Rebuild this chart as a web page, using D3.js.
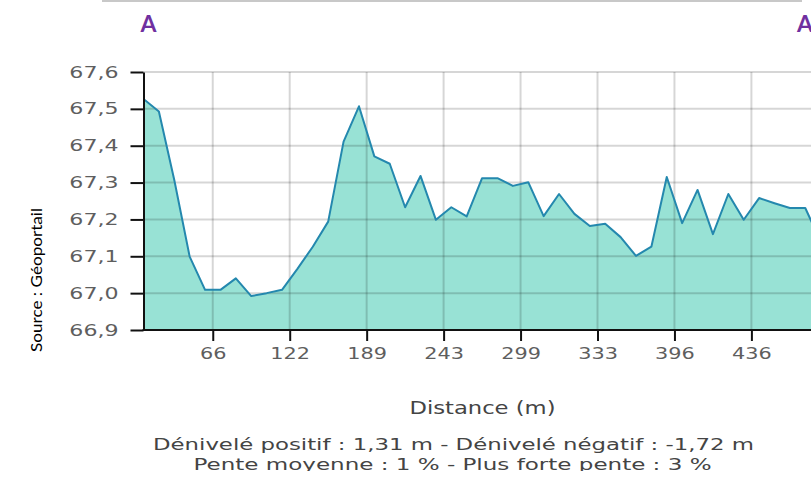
<!DOCTYPE html>
<html>
<head>
<meta charset="utf-8">
<script src="https://cdn.jsdelivr.net/npm/d3@7"></script>
<style>
  html, body { margin: 0; padding: 0; background: #fff; }
  svg { display: block; }
</style>
</head>
<body>
<svg id="chart" width="811" height="479"></svg>
<script>
// ---- Data ----
const elevation = [67.527, 67.493, 67.307, 67.099, 67.009, 67.009, 67.04, 66.992, 67.0, 67.009,
  67.066, 67.126, 67.194, 67.411, 67.507, 67.371, 67.351, 67.233, 67.318, 67.199,
  67.233, 67.208, 67.312, 67.312, 67.291, 67.301, 67.209, 67.269, 67.215, 67.182,
  67.188, 67.152, 67.101, 67.126, 67.315, 67.19, 67.28, 67.16, 67.269, 67.199,
  67.258, 67.244, 67.231, 67.231, 67.14];
const distanceLabels = ["66", "122", "189", "243", "299", "333", "396", "436"];
const yTickValues = [66.9, 67.0, 67.1, 67.2, 67.3, 67.4, 67.5, 67.6];
const xTitle = "Distance (m)";
const yTitle = "Source : Géoportail";
const statsLine1 = "Dénivelé positif : 1,31 m - Dénivelé négatif : -1,72 m";
const statsLine2 = "Pente moyenne : 1 % - Plus forte pente : 3 %";
const markerLabels = ["A", "A"];

(function () {
// ---- Layout ----
const W = 811, H = 479;
const pLeft = 143.5, pTop = 72, pBottom = 330;
const step = 15.39;
const svg = d3.select("#chart");

const x = d3.scaleLinear().domain([0, elevation.length - 1])
  .range([pLeft, pLeft + step * (elevation.length - 1)]);
const y = d3.scaleLinear().domain([66.9, 67.6]).range([pBottom, pTop]);
const xTickPos = distanceLabels.map((d, i) => 4.5 + 5 * i);
const fmt = v => d3.format(".1f")(v).replace(".", ",");

function stretch(sel, factor) {
  sel.each(function () {
    const w = this.getComputedTextLength();
    d3.select(this).attr("textLength", w * factor).attr("lengthAdjust", "spacingAndGlyphs");
  });
}
function fitTo(sel, width) {
  sel.attr("textLength", width).attr("lengthAdjust", "spacingAndGlyphs");
}

const defs = svg.append("defs");

// top grey rule
svg.append("line").attr("x1", 102).attr("x2", 802).attr("y1", 1).attr("y2", 1)
  .attr("stroke", "#c8c8c8").attr("stroke-width", 2);

// A markers
svg.append("text").attr("x", 148.5).attr("y", 32).attr("text-anchor", "middle")
  .style("font-family", "Lato, 'Open Sans', sans-serif").style("font-weight", "bold")
  .style("font-size", "23px").attr("fill", "#7030a0").text(markerLabels[0]);
svg.append("text").attr("x", 797).attr("y", 32).attr("text-anchor", "start")
  .style("font-family", "Lato, 'Open Sans', sans-serif").style("font-weight", "bold")
  .style("font-size", "23px").attr("fill", "#7030a0").text(markerLabels[1]);

// clip
defs.append("clipPath").attr("id", "plotclip")
  .append("rect").attr("x", pLeft).attr("y", pTop - 5).attr("width", W - pLeft).attr("height", pBottom - pTop + 5);

const plot = svg.append("g").attr("clip-path", "url(#plotclip)");

const area = d3.area().x((d, i) => x(i)).y0(y(66.9)).y1(d => y(d));
const line = d3.line().x((d, i) => x(i)).y(d => y(d));

plot.append("path").datum(elevation).attr("d", area).attr("fill", "#98e2d5");

// grid
const grid = plot.append("g");
grid.selectAll("line.h").data(yTickValues).join("line").attr("class", "h")
  .attr("x1", pLeft).attr("x2", W).attr("y1", d => y(d)).attr("y2", d => y(d))
  .attr("stroke", "#000").attr("stroke-opacity", 0.16).attr("stroke-width", 2);
grid.selectAll("line.v").data(xTickPos).join("line").attr("class", "v")
  .attr("y1", pTop).attr("y2", pBottom).attr("x1", d => x(d)).attr("x2", d => x(d))
  .attr("stroke", "#000").attr("stroke-opacity", 0.16).attr("stroke-width", 2);

plot.append("path").datum(elevation).attr("d", line).attr("fill", "none")
  .attr("stroke", "#2488ae").attr("stroke-width", 2).attr("stroke-linejoin", "round");

// axes
const yAxis = svg.append("g").attr("transform", `translate(${pLeft},0)`)
  .call(d3.axisLeft(y).tickValues(yTickValues).tickFormat(fmt).tickSize(13).tickSizeOuter(0).tickPadding(12));
yAxis.select(".domain").attr("stroke", "#111").attr("stroke-width", 2);
yAxis.selectAll(".tick line").attr("stroke", "#111").attr("stroke-width", 2);
yAxis.selectAll(".tick text").attr("fill", "#5e5e5e")
  .style("font-family", "'DejaVu Sans', Verdana, sans-serif").style("font-size", "16px");
stretch(yAxis.selectAll(".tick text"), 1.38);

const xAxis = svg.append("g").attr("transform", `translate(0,${pBottom})`)
  .call(d3.axisBottom(x).tickValues(xTickPos).tickFormat((d, i) => distanceLabels[i])
    .tickSize(11).tickSizeOuter(0).tickPadding(7));
xAxis.select(".domain").remove();
xAxis.append("line").attr("x1", pLeft - 1).attr("x2", W).attr("y1", 0).attr("y2", 0)
  .attr("stroke", "#111").attr("stroke-width", 2);
xAxis.selectAll(".tick line").attr("stroke", "#111").attr("stroke-width", 2);
xAxis.selectAll(".tick text").attr("fill", "#5e5e5e")
  .style("font-family", "'DejaVu Sans', Verdana, sans-serif").style("font-size", "16px");
stretch(xAxis.selectAll(".tick text"), 1.3);

// x title
svg.append("text").attr("x", 482.5).attr("y", 414).attr("text-anchor", "middle")
  .attr("fill", "#444").style("font-family", "'DejaVu Sans', Verdana, sans-serif")
  .style("font-size", "17px").text(xTitle).call(fitTo, 146);

// y title (source)
svg.append("text").attr("transform", "translate(42,280) rotate(-90)").attr("text-anchor", "middle")
  .attr("fill", "#000").style("font-family", "Lato, 'Open Sans', sans-serif")
  .style("font-size", "15px").text(yTitle).call(fitTo, 144);

// stats lines, clipped at bottom
defs.append("clipPath").attr("id", "statclip")
  .append("rect").attr("x", 0).attr("y", 420).attr("width", W).attr("height", 51);
const stats = svg.append("g").attr("clip-path", "url(#statclip)");
stats.append("text").attr("x", 453.5).attr("y", 450).attr("text-anchor", "middle")
  .attr("fill", "#444").style("font-family", "'DejaVu Sans', Verdana, sans-serif")
  .style("font-size", "16px").text(statsLine1).call(fitTo, 601);
stats.append("text").attr("x", 452.5).attr("y", 470).attr("text-anchor", "middle")
  .attr("fill", "#444").style("font-family", "'DejaVu Sans', Verdana, sans-serif")
  .style("font-size", "16px").text(statsLine2).call(fitTo, 518);
})();
</script>
</body>
</html>
